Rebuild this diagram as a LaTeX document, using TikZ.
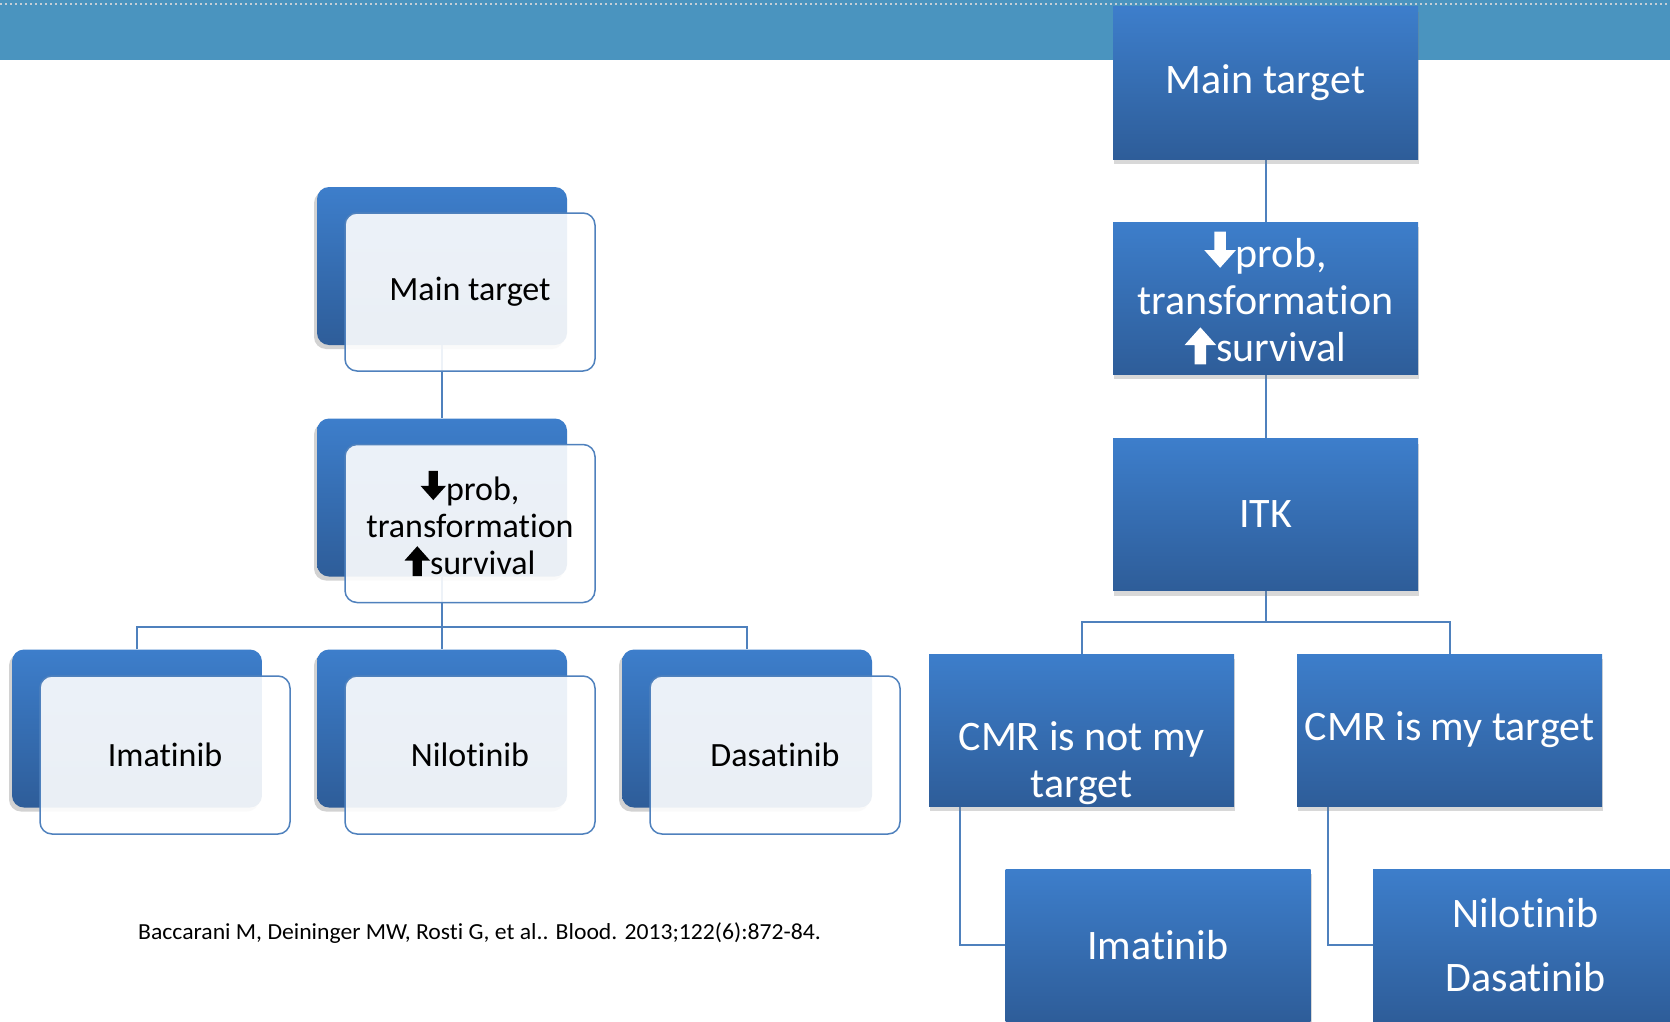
\documentclass[tikz,border=0pt]{standalone}
\usepackage{fontspec}
\setmainfont[Ligatures=NoCommon]{Carlito}
\newfontfamily\citefont[FakeStretch=1.03,Ligatures=NoCommon]{Carlito}
\usetikzlibrary{shadows,backgrounds,calc}
\definecolor{barblue}{RGB}{74,148,191}
\definecolor{btop}{RGB}{61,126,203}
\definecolor{bbot}{RGB}{46,93,153}
\definecolor{lineblue}{RGB}{79,129,189}
\definecolor{dotgray}{RGB}{196,206,214}
\tikzset{arrglyph/.style={baseline=0pt,x=1em,y=1em,sharp corners,fill opacity=1,draw=none}}
\newcommand{\DnArr}{\tikz[arrglyph]\fill (0.24,0.86) -- (0.51,0.86) -- (0.51,0.42) -- (0.75,0.42) -- (0.375,0) -- (0,0.42) -- (0.24,0.42) -- cycle;}
\newcommand{\UpArr}{\tikz[arrglyph]\fill (0.24,-0.06) -- (0.51,-0.06) -- (0.51,0.40) -- (0.75,0.40) -- (0.375,0.82) -- (0,0.40) -- (0.24,0.40) -- cycle;}
\tikzset{
  backbox/.style={rounded corners=12pt, minimum width=250pt, minimum height=158pt, inner sep=0pt,
    top color=btop, bottom color=bbot, draw=none,
    drop shadow={shadow xshift=-3pt, shadow yshift=-4pt, opacity=0.35}},
  frontbox/.style={rounded corners=12pt, minimum width=250pt, minimum height=158pt, inner sep=0pt,
    fill=white, fill opacity=0.9, text opacity=1, draw=lineblue, line width=1.5pt,
    font=\fontsize{34}{37}\selectfont, align=center, text=black},
  rbox/.style={minimum width=305pt, minimum height=152pt, inner sep=0pt,
    top color=btop, bottom color=bbot, draw=none, text=white,
    font=\fontsize{42}{47}\selectfont, align=center,
    drop shadow={shadow xshift=1pt, shadow yshift=-5pt, opacity=0.3}},
  rtext/.style={text=white, font=\fontsize{42}{47}\selectfont, align=center, inner sep=0pt},
  conn/.style={draw=lineblue, line width=2pt},
  cite/.style={font=\citefont\fontsize{23}{27}\selectfont, text=black, inner sep=0pt}
}
\begin{document}
\begin{tikzpicture}[x=1pt,y=-1pt]
\useasboundingbox (0,0) rectangle (1670,1022);
\clip (0,0) rectangle (1670,1022);
% top bar
\fill[barblue] (0,0) rectangle (1670,60);
\draw[dotgray, line width=2pt, dash pattern=on 2pt off 3pt] (0,4) -- (1670,4);

% left tree
\node[backbox] (LB1) at (442,266) {};
\node[frontbox] (LF1) at (470,292) {Main target};
\node[backbox] (LB2) at (442,497.5) {};
\node[frontbox] (LF2) at (470,523.5) {\DnArr prob,\\transformation\\\UpArr survival};
\node[backbox] (LB3) at (137,728.5) {};
\node[frontbox] (LF3) at (165,755) {Imatinib};
\node[backbox] (LB4) at (442,728.5) {};
\node[frontbox] (LF4) at (470,755) {Nilotinib};
\node[backbox] (LB5) at (747,728.5) {};
\node[frontbox] (LF5) at (775,755) {Dasatinib};
\coordinate (LJ) at (442,627);

% right tree
\node[rbox] (R1) at (1265.5,83) {Main target};
\node[rbox] (R2) at (1265.5,298) {\DnArr prob,\\transformation\\\UpArr survival};
\node[rbox] (R3) at (1265.5,514.5) {ITK};
\node[rbox] (R4) at (1081.5,730) {};
\node[rtext] (R4t) at (1081.5,763) {CMR is not my\\target};
\node[rbox] (R5) at (1449.5,730) {CMR is my target};
\node[rbox] (R6) at (1158,945) {Imatinib};
\node[rbox] (R7) at (1525.5,945) {Nilotinib\\[17pt]Dasatinib};
\coordinate (RJ) at (1265.5,622);
\coordinate (R4d) at ($(R4.south west)+(31,0)$);
\coordinate (R5d) at ($(R5.south west)+(31,0)$);

\begin{scope}[on background layer]
\fill[white] (0,60) rectangle (1670,1022);
\draw[conn] (LB1.south) -- (LB2.north);
\draw[conn] (LB2.south) -- (LJ) -- (LB4.north);
\draw[conn] (LB3.north) |- (LJ) -| (LB5.north);
\draw[conn] (R1.south) -- (R2.north);
\draw[conn] (R2.south) -- (R3.north);
\draw[conn] (R3.south) -- (RJ);
\draw[conn] (R4.north) |- (RJ) -| (R5.north);
\draw[conn] (R4d) |- (R6.west);
\draw[conn] (R5d) |- (R7.west);
\end{scope}

\node[cite, anchor=base west] (cite) at (138,939) {Baccarani M, Deininger MW, Rosti G, et al.. Blood. 2013;122(6):872-84.};
\end{tikzpicture}
\end{document}
